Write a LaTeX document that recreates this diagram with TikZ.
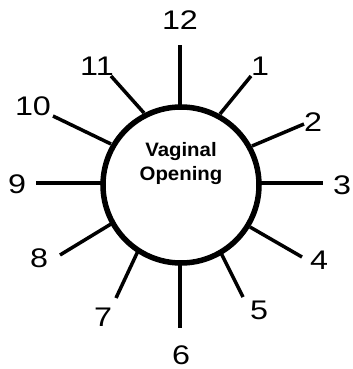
\documentclass[tikz,border=0pt]{standalone}
\usepackage{graphicx}
\usepackage{fontspec}
\setmainfont{Liberation Sans}
\newcommand\dg[1]{\scalebox{1.2}[1]{#1}}
\begin{document}
\begin{tikzpicture}[x=1bp,y=-1bp,
  ray/.style={line width=3.5bp},
  num/.style={font=\fontsize{27}{29}\selectfont, inner sep=0pt},
  ring/.style={circle, draw, line width=5.5bp, minimum size=156bp, inner sep=0pt}]
\useasboundingbox (0,0) rectangle (353,369);
\node[ring] (c) at (181,185) {};
\node[font=\bfseries\fontsize{19.5}{24}\selectfont, align=center, inner sep=0pt, anchor=base] (t) at (181,180) {\scalebox{1.05}[1]{Vaginal}\\\scalebox{1.05}[1]{Opening}};
% inner/outer coordinates
\coordinate (i12) at (180,106); \coordinate (o12) at (180,45);
\coordinate (i1) at (220,114);  \coordinate (o1) at (251,76);
\coordinate (i2) at (252,146);  \coordinate (o2) at (304,124);
\coordinate (i3) at (259,183);  \coordinate (o3) at (323,183);
\coordinate (i4) at (250,227);  \coordinate (o4) at (302,257);
\coordinate (i5) at (221,253);  \coordinate (o5) at (243,297);
\coordinate (i6) at (180,262);  \coordinate (o6) at (180,328);
\coordinate (i7) at (138,251);  \coordinate (o7) at (116,298);
\coordinate (i8) at (111,224);  \coordinate (o8) at (60,255);
\coordinate (i9) at (103,183);  \coordinate (o9) at (36,183);
\coordinate (i10) at (111,144); \coordinate (o10) at (53,116);
\coordinate (i11) at (144,113); \coordinate (o11) at (111,76);
\foreach \k in {1,...,12} \draw[ray] (i\k) -- (o\k);
\node[num] (n12) at (180,20) {\dg{12}};
\node[num] (n1) at (260,66) {\dg{1}};
\node[num] (n2) at (313,122) {\dg{2}};
\node[num] (n3) at (342,185) {\dg{3}};
\node[num] (n4) at (319,260) {\dg{4}};
\node[num] (n5) at (259,310) {\dg{5}};
\node[num] (n6) at (181,355) {\dg{6}};
\node[num] (n7) at (103,317) {\dg{7}};
\node[num] (n8) at (39,258) {\dg{8}};
\node[num] (n9) at (17,184) {\dg{9}};
\node[num] (n10) at (33,106) {\dg{10}};
\node[num] (n11) at (97,66) {\dg{11}};
\end{tikzpicture}
\end{document}
